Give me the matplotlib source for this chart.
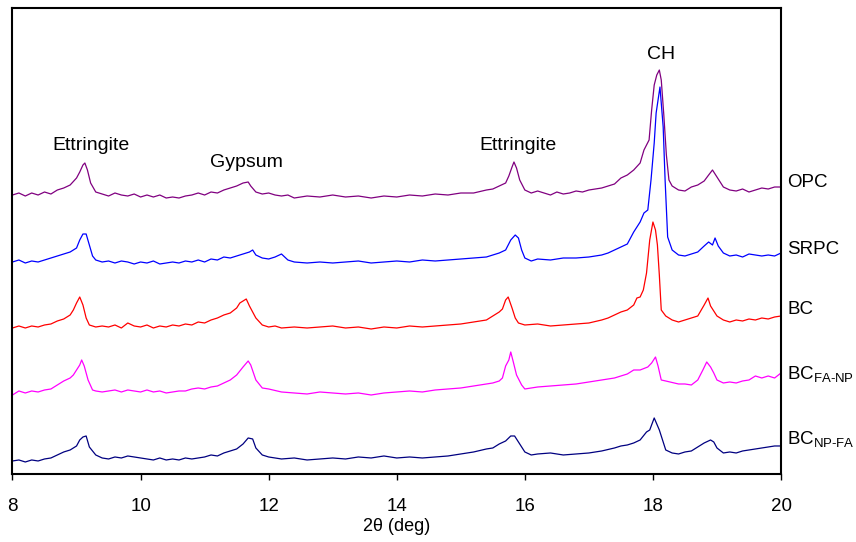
import numpy as np
import matplotlib
matplotlib.use('Agg')
import matplotlib.pyplot as plt
import matplotlib.transforms as mtransforms

plt.rcParams['font.family'] = ['Liberation Sans', 'DejaVu Sans']
plt.rcParams['mathtext.fontset'] = 'custom'
plt.rcParams['mathtext.rm'] = 'Liberation Sans'

# ---------- XRD traces (2theta in deg, stacked intensity in a.u.)
opc_x = [8.0, 8.1, 8.2, 8.3, 8.4, 8.5, 8.6, 8.7, 8.8, 8.9, 9.0, 9.05, 9.1, 9.13, 9.17, 9.22, 9.3, 9.4, 9.5, 9.6,
         9.7, 9.8, 9.9, 10.0, 10.1, 10.2, 10.3, 10.4, 10.5, 10.6, 10.7, 10.8, 10.9, 11.0, 11.1, 11.2, 11.3, 11.4,
         11.5, 11.6, 11.68, 11.72, 11.8, 11.9, 12.0, 12.1, 12.2, 12.3, 12.4, 12.6, 12.8, 13.0, 13.2, 13.4, 13.6,
         13.8, 14.0, 14.2, 14.4, 14.6, 14.8, 15.0, 15.2, 15.4, 15.5, 15.6, 15.7, 15.75, 15.8, 15.83, 15.87, 15.92,
         16.0, 16.1, 16.2, 16.3, 16.4, 16.5, 16.6, 16.7, 16.8, 16.9, 17.0, 17.1, 17.2, 17.3, 17.4, 17.5, 17.6, 17.7,
         17.8, 17.86, 17.94, 17.98, 18.02, 18.06, 18.1, 18.13, 18.17, 18.21, 18.25, 18.3, 18.4, 18.5, 18.6, 18.7,
         18.8, 18.87, 18.93, 19.0, 19.1, 19.2, 19.3, 19.4, 19.5, 19.6, 19.7, 19.8, 19.9, 20.0]
opc_y = [279, 281, 278, 281, 279, 282, 280, 284, 286, 289, 296, 302, 309, 311, 304, 291, 282, 280, 278, 281,
         279, 278, 280, 277, 279, 277, 279, 276, 277, 276, 278, 279, 281, 279, 282, 281, 284, 286,
         288, 291, 292, 288, 282, 280, 281, 279, 278, 279, 276, 278, 277, 279, 277, 278, 276,
         278, 277, 279, 278, 280, 279, 281, 281, 284, 285, 288, 291, 298, 307, 312, 306, 294,
         284, 281, 283, 281, 279, 282, 280, 281, 283, 282, 284, 285, 286, 288, 290, 296, 299, 304,
         311, 324, 334, 364, 389, 399, 404, 394, 359, 319, 294, 288, 284, 283, 287, 289,
         293, 299, 304, 297, 287, 284, 283, 285, 282, 284, 286, 285, 287, 287]

srpc_x = [8.0, 8.1, 8.2, 8.3, 8.4, 8.5, 8.6, 8.7, 8.8, 8.9, 9.0, 9.05, 9.1, 9.15, 9.2, 9.25, 9.3, 9.4, 9.5, 9.6,
          9.7, 9.8, 9.9, 10.0, 10.1, 10.2, 10.3, 10.4, 10.5, 10.6, 10.7, 10.8, 10.9, 11.0, 11.1, 11.2, 11.3, 11.4,
          11.5, 11.6, 11.7, 11.75, 11.8, 11.9, 12.0, 12.1, 12.2, 12.3, 12.4, 12.6, 12.8, 13.0, 13.2, 13.4, 13.6,
          13.8, 14.0, 14.2, 14.4, 14.6, 14.8, 15.0, 15.2, 15.4, 15.5, 15.6, 15.7, 15.78, 15.85, 15.9, 15.95, 16.0,
          16.1, 16.2, 16.4, 16.6, 16.8, 17.0, 17.2, 17.3, 17.4, 17.5, 17.6, 17.7, 17.8, 17.86, 17.92, 17.97, 18.02,
          18.05, 18.11, 18.16, 18.19, 18.23, 18.3, 18.4, 18.5, 18.6, 18.7, 18.8, 18.87, 18.93, 18.97, 19.02, 19.1,
          19.2, 19.3, 19.4, 19.5, 19.6, 19.7, 19.8, 19.9, 20.0]
srpc_y = [212, 214, 211, 213, 212, 214, 216, 218, 220, 222, 226, 234, 240, 240, 229, 218, 214, 212, 213, 211,
          213, 212, 210, 212, 211, 213, 210, 211, 212, 211, 213, 212, 214, 212, 215, 214, 217, 216,
          218, 220, 222, 224, 219, 216, 215, 217, 220, 214, 212, 211, 212, 211, 212, 213, 211,
          212, 213, 212, 214, 213, 214, 215, 216, 217, 219, 221, 224, 234, 239, 236, 224, 216,
          213, 215, 214, 216, 216, 217, 219, 221, 224, 227, 230, 242, 252, 261, 264, 294, 331,
          361, 387, 347, 294, 237, 224, 219, 218, 220, 222, 228, 232, 229, 236, 228, 221,
          218, 219, 217, 220, 219, 218, 219, 218, 221]

bc_x = [8.0, 8.1, 8.2, 8.3, 8.4, 8.5, 8.6, 8.7, 8.8, 8.9, 8.95, 9.0, 9.05, 9.1, 9.15, 9.2, 9.3, 9.4, 9.5, 9.6,
        9.7, 9.8, 9.9, 10.0, 10.1, 10.2, 10.3, 10.4, 10.5, 10.6, 10.7, 10.8, 10.9, 11.0, 11.1, 11.2, 11.3, 11.4,
        11.5, 11.55, 11.6, 11.65, 11.7, 11.8, 11.9, 12.0, 12.1, 12.2, 12.4, 12.6, 12.8, 13.0, 13.2, 13.4, 13.6,
        13.8, 14.0, 14.2, 14.4, 14.6, 14.8, 15.0, 15.2, 15.4, 15.5, 15.6, 15.65, 15.7, 15.74, 15.8, 15.85, 15.9,
        16.0, 16.2, 16.4, 16.6, 16.8, 17.0, 17.2, 17.3, 17.4, 17.5, 17.6, 17.7, 17.75, 17.8, 17.85, 17.9, 17.95,
        18.0, 18.04, 18.07, 18.1, 18.13, 18.2, 18.3, 18.4, 18.5, 18.6, 18.7, 18.8, 18.86, 18.9, 19.0, 19.1,
        19.2, 19.3, 19.4, 19.5, 19.6, 19.7, 19.8, 19.9, 20.0]
bc_y = [146, 148, 146, 148, 147, 149, 150, 153, 155, 159, 164, 171, 177, 169, 156, 149, 147, 148, 147, 149,
        146, 151, 148, 147, 149, 146, 148, 147, 149, 148, 150, 149, 152, 151, 154, 156, 159, 161,
        166, 171, 173, 175, 168, 156, 149, 147, 148, 146, 147, 146, 147, 148, 146, 147, 145,
        147, 146, 148, 147, 148, 149, 150, 152, 154, 158, 162, 165, 174, 177, 166, 156, 151,
        149, 150, 148, 149, 150, 151, 154, 156, 159, 162, 164, 169, 176, 177, 184, 201, 234,
        252, 244, 229, 199, 164, 158, 154, 152, 154, 156, 158, 169, 176, 168, 158, 154,
        152, 154, 153, 155, 154, 156, 155, 157, 158]

fanp_x = [8.0, 8.1, 8.2, 8.3, 8.4, 8.5, 8.6, 8.7, 8.8, 8.9, 8.95, 9.0, 9.05, 9.08, 9.12, 9.18, 9.25, 9.3, 9.4,
          9.5, 9.6, 9.7, 9.8, 9.9, 10.0, 10.1, 10.2, 10.3, 10.4, 10.5, 10.6, 10.7, 10.8, 10.9, 11.0, 11.1, 11.2,
          11.3, 11.4, 11.5, 11.6, 11.68, 11.72, 11.8, 11.9, 12.0, 12.2, 12.4, 12.6, 12.8, 13.0, 13.2, 13.4, 13.6,
          13.8, 14.0, 14.2, 14.4, 14.6, 14.8, 15.0, 15.2, 15.4, 15.5, 15.6, 15.65, 15.7, 15.75, 15.78, 15.82,
          15.87, 15.95, 16.0, 16.1, 16.2, 16.4, 16.6, 16.8, 17.0, 17.2, 17.4, 17.6, 17.7, 17.8, 17.92, 17.98,
          18.04, 18.08, 18.13, 18.2, 18.4, 18.5, 18.6, 18.7, 18.78, 18.84, 18.9, 18.95, 19.0, 19.1, 19.2, 19.3,
          19.4, 19.5, 19.6, 19.7, 19.8, 19.9, 20.0]
fanp_y = [79, 83, 81, 83, 82, 84, 85, 89, 93, 96, 99, 104, 109, 114, 108, 94, 84, 83, 82,
          83, 84, 82, 84, 83, 82, 84, 82, 83, 81, 82, 83, 83, 85, 86, 85, 87, 88,
          91, 94, 99, 107, 113, 109, 94, 86, 85, 82, 81, 80, 82, 81, 80, 81, 79,
          81, 82, 83, 82, 84, 85, 86, 88, 90, 91, 93, 96, 108, 114, 122, 112,
          99, 89, 85, 86, 87, 88, 89, 90, 92, 94, 96, 100, 104, 104, 107, 111,
          117, 108, 94, 93, 90, 90, 89, 94, 104, 112, 107, 101, 94, 91, 92, 91,
          93, 94, 98, 96, 98, 96, 101]

npfa_x = [8.0, 8.1, 8.2, 8.3, 8.4, 8.5, 8.6, 8.7, 8.8, 8.9, 9.0, 9.05, 9.1, 9.15, 9.2, 9.3, 9.4, 9.5, 9.6,
          9.7, 9.8, 9.9, 10.0, 10.1, 10.2, 10.3, 10.4, 10.5, 10.6, 10.7, 10.8, 10.9, 11.0, 11.1, 11.2, 11.3,
          11.4, 11.5, 11.6, 11.68, 11.75, 11.8, 11.9, 12.0, 12.2, 12.4, 12.6, 12.8, 13.0, 13.2, 13.4, 13.6,
          13.8, 14.0, 14.2, 14.4, 14.6, 14.8, 15.0, 15.2, 15.4, 15.5, 15.6, 15.7, 15.78, 15.84, 15.9, 16.0,
          16.1, 16.2, 16.4, 16.6, 16.8, 17.0, 17.2, 17.4, 17.5, 17.6, 17.7, 17.8, 17.9, 17.95, 18.02, 18.06,
          18.1, 18.15, 18.2, 18.3, 18.4, 18.5, 18.6, 18.7, 18.8, 18.9, 18.95, 19.0, 19.1, 19.2, 19.3, 19.4,
          19.5, 19.6, 19.7, 19.8, 19.9, 20.0]
npfa_y = [13, 14, 12, 14, 13, 15, 16, 19, 22, 24, 28, 34, 37, 38, 27, 19, 16, 15, 17,
          16, 18, 17, 16, 15, 14, 16, 14, 15, 14, 16, 15, 16, 17, 19, 18, 21,
          23, 25, 30, 36, 35, 26, 19, 17, 15, 16, 14, 15, 16, 15, 17, 16,
          18, 16, 17, 16, 17, 18, 20, 22, 25, 26, 30, 33, 38, 38, 32, 22,
          19, 20, 21, 19, 20, 21, 23, 26, 28, 29, 31, 34, 42, 44, 56, 50,
          44, 34, 24, 21, 20, 22, 23, 27, 31, 34, 32, 26, 21, 22, 21, 23,
          24, 25, 26, 27, 28, 28]

series_names = ['OPC', 'SRPC', 'BC', r'BC$_{\text{FA-NP}}$', r'BC$_{\text{NP-FA}}$']
series_colors = ['#800080', '#0000ff', '#ff0000', '#ff00ff', '#000080']
label_levels = [292, 224, 164, 99, 34]

phase_names = ['Ettringite', 'Gypsum', 'Ettringite', 'CH']
phase_x = [9.23, 11.66, 15.9, 18.12]
phase_y = [329, 312, 329, 420]

traces = [(opc_x, opc_y), (srpc_x, srpc_y), (bc_x, bc_y), (fanp_x, fanp_y), (npfa_x, npfa_y)]

fig = plt.figure(figsize=(8.56, 5.42), dpi=100)
ax = fig.add_axes([0.0146, 0.1255, 0.8978, 0.8597])

for (xs, ys), c in zip(traces, series_colors):
    ax.plot(xs, ys, color=c, linewidth=0.9)

ax.set_xlim(8, 20)
ax.set_ylim(0, 466)
ax.set_xticks([8, 10, 12, 14, 16, 18, 20])
ax.set_yticks([])
ax.tick_params(axis='x', direction='out', length=4.5, width=1, labelsize=13.5, pad=13)
for s in ax.spines.values():
    s.set_linewidth(1.5)
ax.set_xlabel('2θ (deg)', fontsize=13, labelpad=2)

trans = mtransforms.blended_transform_factory(ax.transAxes, ax.transData)
for name, lev in zip(series_names, label_levels):
    ax.text(1.008, lev, name, transform=trans, fontsize=13.5, ha='left', va='center', clip_on=False)

for name, px, py in zip(phase_names, phase_x, phase_y):
    ax.text(px, py, name, fontsize=14, ha='center', va='center')

fig.savefig('out.png', dpi=100)
